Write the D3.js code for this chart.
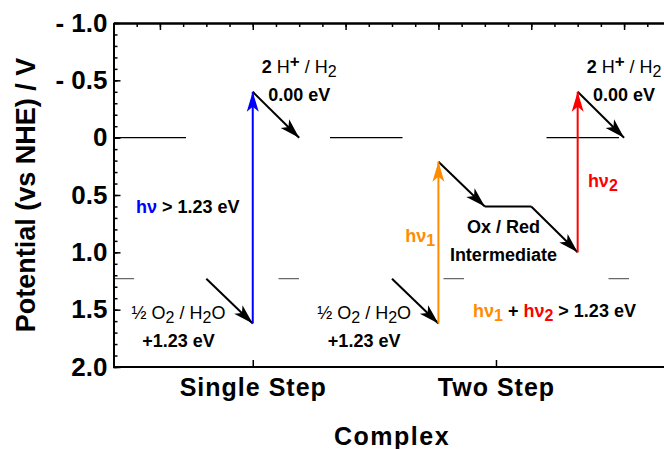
<!DOCTYPE html>
<html>
<head>
<meta charset="utf-8">
<script src="https://cdn.jsdelivr.net/npm/d3@7"></script>
<style>
  body { margin: 0; background: #fff; }
  svg { font-family: "Liberation Sans", Arial, sans-serif; }
</style>
</head>
<body>
<svg id="chart" width="664" height="449"></svg>
<script>
// potential axis
var yTicks = [-1, -0.5, 0, 0.5, 1, 1.5, 2];
var yTickLabels = ["- 1.0", "- 0.5", "0", "0.5", "1.0", "1.5", "2.0"];
// categories and where they sit on the x axis
var categories = ["Single Step", "Two Step"];
var categoryX = [1, 3.62];
// reference levels (H+/H2 and O2/H2O)
var levels = [0, 1.23];
// black relaxation arrows [x0, y0, x1, y1]
var relaxArrows = [
  [0.5, 1.23, 1, 1.62],
  [1, -0.4, 1.5, 0],
  [2.5, 1.23, 3, 1.62],
  [3, 0.21, 3.5, 0.6],
  [4, 0.6, 4.5, 1.0],
  [4.5, -0.4, 5, 0]
];
// intermediate plateau
var plateau = [[3.5, 0.6, 4, 0.6]];
// photon excitations
var photonX = [1, 3, 4.5];
var photonFrom = [1.62, 1.62, 1.0];
var photonTo = [-0.4, 0.21, -0.4];
var photonColors = ["#0000ff", "#ff8c00", "#ff0000"];

var svg = d3.select("#chart");
var x = d3.scaleLinear().domain([-0.5, 5.5]).range([113.5, 670.5]);
var y = d3.scaleLinear().domain([-1, 2]).range([23, 367]);
var xCat = d3.scalePoint().domain(categories).range([x(categoryX[0]), x(categoryX[1])]);

// arrow heads
var defs = svg.append("defs");
function marker(id, color) {
  defs.append("marker")
    .attr("id", id)
    .attr("viewBox", "-21 -7 22 14")
    .attr("refX", 0).attr("refY", 0)
    .attr("markerWidth", 22).attr("markerHeight", 14)
    .attr("markerUnits", "userSpaceOnUse")
    .attr("orient", "auto")
    .append("path")
    .attr("d", "M0,0 L-20,-6 L-15,0 L-20,6 Z")
    .attr("fill", color);
}
marker("head-black", "#000");
photonColors.forEach(function(c, i) { marker("head-" + i, c); });

// level lines
svg.selectAll(".level").data(levels).enter().append("line")
  .attr("class", "level")
  .attr("x1", x(-0.5)).attr("x2", x(5.5))
  .attr("y1", d => y(d)).attr("y2", d => y(d))
  .attr("stroke", (d, i) => i == 0 ? "#000" : "#444")
  .attr("stroke-width", (d, i) => i == 0 ? 1.2 : 1)
  .attr("stroke-dasharray", (d, i) => i == 0 ? "72.5 144" : "20.5 144.5");

// axes
var gLeft = svg.append("g").attr("transform", "translate(" + x(-0.5) + ",0)");
gLeft.call(d3.axisLeft(y).tickValues(d3.range(-1, 2.001, 0.1)).tickSize(-4).tickSizeOuter(0).tickFormat(""));
gLeft.append("g").call(d3.axisLeft(y).tickValues(yTicks).tickSize(-7).tickSizeOuter(0).tickPadding(6)
  .tickFormat((d, i) => yTickLabels[i]));
gLeft.selectAll("text")
  .attr("font-size", 26).attr("font-weight", "bold").attr("fill", "#000")
  .attr("font-family", "'Liberation Sans', Arial, sans-serif");

var gTop = svg.append("g").attr("transform", "translate(0," + y(-1) + ")");
gTop.call(d3.axisTop(x).tickValues(d3.range(-0.25, 5.51, 0.25)).tickSize(-4).tickSizeOuter(0).tickFormat(""));
gTop.append("g").call(d3.axisTop(x).tickValues(d3.range(0, 6, 1)).tickSize(-7).tickSizeOuter(0).tickFormat(""));

var gBottom = svg.append("g").attr("transform", "translate(0," + y(2) + ")");
gBottom.call(d3.axisBottom(x).tickValues([]).tickSizeOuter(0));
gBottom.append("g").call(d3.axisBottom(xCat).tickSize(-7).tickPadding(11).tickSizeOuter(0));
gBottom.selectAll("path.domain").remove();
gBottom.append("line").attr("x1", x(-0.5)).attr("x2", x(5.5)).attr("stroke", "#000").attr("stroke-width", 2);
gBottom.selectAll("text")
  .attr("font-size", 25).attr("font-weight", "bold").attr("fill", "#000")
  .attr("letter-spacing", 1)
  .attr("font-family", "'Liberation Sans', Arial, sans-serif");

svg.selectAll(".domain, .tick line").attr("stroke", "#000").attr("stroke-width", 2);
svg.selectAll(".tick line").attr("stroke-width", 1.5);

// axis titles
svg.append("text")
  .attr("transform", "rotate(-90)")
  .attr("x", -(y(-1) + y(2)) / 2).attr("y", 35)
  .attr("text-anchor", "middle")
  .attr("font-size", 27).attr("font-weight", "bold")
  .text("Potential (vs NHE) / V");
svg.append("text")
  .attr("x", (x(-0.5) + x(5.5)) / 2).attr("y", 445)
  .attr("text-anchor", "middle")
  .attr("font-size", 25).attr("font-weight", "bold").attr("letter-spacing", 1.5)
  .text("Complex");

// plateau and arrows
svg.selectAll(".plateau").data(plateau).enter().append("line")
  .attr("x1", d => x(d[0])).attr("y1", d => y(d[1]))
  .attr("x2", d => x(d[2])).attr("y2", d => y(d[3]))
  .attr("stroke", "#000").attr("stroke-width", 2);

svg.selectAll(".relax").data(relaxArrows).enter().append("line")
  .attr("x1", d => x(d[0])).attr("y1", d => y(d[1]))
  .attr("x2", d => x(d[2])).attr("y2", d => y(d[3]))
  .attr("stroke", "#000").attr("stroke-width", 2)
  .attr("marker-end", "url(#head-black)");

svg.selectAll(".photon").data(photonX).enter().append("line")
  .attr("x1", d => x(d)).attr("x2", d => x(d))
  .attr("y1", (d, i) => y(photonFrom[i])).attr("y2", (d, i) => y(photonTo[i]))
  .attr("stroke", (d, i) => photonColors[i]).attr("stroke-width", 2)
  .attr("marker-end", (d, i) => "url(#head-" + i + ")");

// labels built from parts
function label(xv, yv, anchor, parts) {
  var t = svg.append("text")
    .attr("x", x(xv)).attr("y", y(yv))
    .attr("text-anchor", anchor)
    .attr("font-size", 18);
  var prev = 0;
  parts.forEach(function(p) {
    var shift = p.sh || 0;
    t.append("tspan")
      .attr("dy", shift - prev)
      .attr("font-weight", p.b ? "bold" : "normal")
      .attr("font-size", p.s || 18)
      .attr("fill", p.c || "#000")
      .text(p.t);
    prev = shift;
  });
}
var H2 = [{t: "2", b: 1}, {t: " H"}, {t: "+", b: 1, sh: -6, s: 17}, {t: " / H"}, {t: "2", sh: 4, s: 16}];
var O2 = [{t: "½ O"}, {t: "2", sh: 4, s: 16}, {t: "  / H"}, {t: "2", sh: 4, s: 16}, {t: "O"}];
var E123 = [{t: "+1.23 eV", b: 1}];
[1.5, 5].forEach(function(xv) {
  label(xv, -0.565, "middle", H2);
  label(xv, -0.32, "middle", [{t: "0.00 eV", b: 1}]);
});
[0.2, 2.2].forEach(function(xv) {
  label(xv, 1.58, "middle", O2);
  label(xv, 1.822, "middle", E123);
});
label(0.3, 0.66, "middle", [{t: "hν", b: 1, c: photonColors[0]}, {t: " > 1.23 eV", b: 1}]);
label(2.965, 0.907, "end", [{t: "hν", b: 1, c: photonColors[1]}, {t: "1", b: 1, c: photonColors[1], sh: 4, s: 16}]);
label(4.61, 0.427, "start", [{t: "hν", b: 1, c: photonColors[2]}, {t: "2", b: 1, c: photonColors[2], sh: 4, s: 16}]);
label(3.7, 0.83, "middle", [{t: "Ox / Red", b: 1}]);
label(3.7, 1.075, "middle", [{t: "Intermediate", b: 1}]);
label(4.25, 1.561, "middle", [
  {t: "hν", b: 1, c: photonColors[1]}, {t: "1", b: 1, c: photonColors[1], sh: 4, s: 16},
  {t: "  + ", b: 1}, {t: "hν", b: 1, c: photonColors[2]}, {t: "2", b: 1, c: photonColors[2], sh: 4, s: 16},
  {t: "  > 1.23 eV", b: 1}
]);
</script>
</body>
</html>
